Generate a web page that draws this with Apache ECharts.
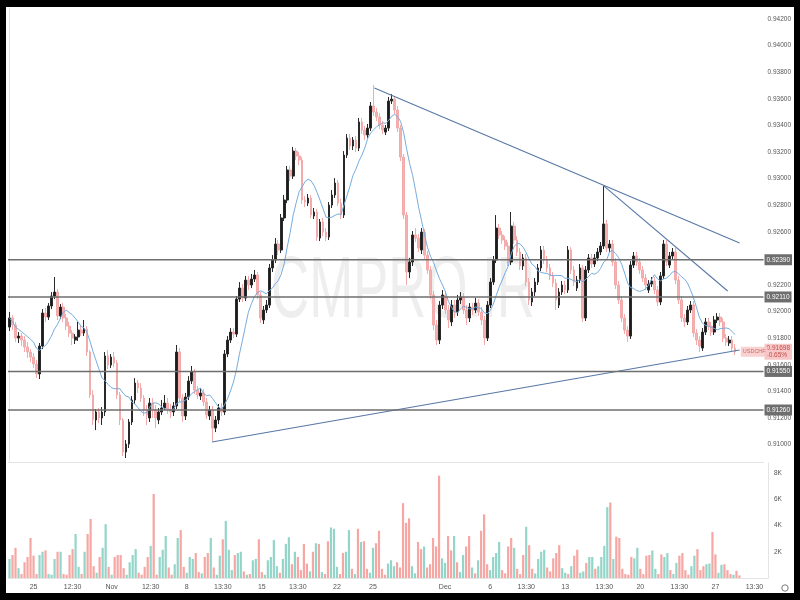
<!DOCTYPE html>
<html>
<head>
<meta charset="utf-8">
<script src="https://cdn.jsdelivr.net/npm/echarts@6/dist/echarts.min.js"></script>
<style>
html,body{margin:0;padding:0;background:#000;width:800px;height:600px;overflow:hidden;}
#c{position:absolute;left:6px;top:7px;width:788px;height:586px;background:#fff;}
</style>
</head>
<body>
<div id="c"></div>
<script>
// [open, close, low, high]
const candles = [
[0.91884,0.91952,0.91854,0.91997],[0.91952,0.91899,0.91861,0.91974],[0.91899,0.91801,0.91771,0.91922],[0.91801,0.91816,0.91764,0.91846],
[0.91816,0.91786,0.91741,0.91839],[0.91786,0.91734,0.91696,0.91816],[0.91734,0.91696,0.91651,0.91771],[0.91696,0.91658,0.91621,0.91718],
[0.91658,0.91606,0.91576,0.91688],[0.91606,0.91531,0.91500,0.91636],[0.91531,0.91741,0.91493,0.91764],[0.91741,0.91989,0.91718,0.92019],
[0.91989,0.91959,0.91922,0.92027],[0.91959,0.92042,0.91937,0.92064],[0.92042,0.92117,0.92019,0.92147],[0.92117,0.92147,0.92094,0.92260],
[0.92147,0.91967,0.91937,0.92170],[0.91967,0.92034,0.91944,0.92057],[0.92034,0.91952,0.91922,0.92064],[0.91952,0.91891,0.91861,0.91982],
[0.91891,0.91839,0.91809,0.91922],[0.91839,0.91801,0.91749,0.91861],[0.91786,0.91809,0.91756,0.91831],[0.91809,0.91861,0.91779,0.91922],
[0.91861,0.91839,0.91816,0.91899],[0.91839,0.91869,0.91816,0.91937],[0.91869,0.91696,0.91666,0.91891],[0.91696,0.91373,0.91350,0.91711],
[0.91373,0.91185,0.91147,0.91410],[0.91185,0.91245,0.91109,0.91267],[0.91245,0.91200,0.91162,0.91275],[0.91200,0.91245,0.91147,0.91282],
[0.91245,0.91666,0.91215,0.91696],[0.91666,0.91598,0.91568,0.91711],[0.91598,0.91658,0.91576,0.91681],[0.91658,0.91613,0.91583,0.91696],
[0.91613,0.91373,0.91343,0.91636],[0.91373,0.91185,0.91147,0.91395],[0.91185,0.90944,0.90914,0.91200],[0.90944,0.91004,0.90899,0.91034],
[0.91004,0.91170,0.90974,0.91192],[0.91170,0.91335,0.91147,0.91365],[0.91335,0.91463,0.91305,0.91500],[0.91463,0.91425,0.91388,0.91485],
[0.91425,0.91350,0.91320,0.91463],[0.91350,0.91260,0.91215,0.91373],[0.91260,0.91222,0.91147,0.91297],[0.91200,0.91312,0.91170,0.91350],
[0.91312,0.91260,0.91200,0.91350],[0.91260,0.91200,0.91124,0.91297],[0.91185,0.91245,0.91154,0.91275],[0.91245,0.91275,0.91222,0.91335],
[0.91275,0.91312,0.91260,0.91373],[0.91312,0.91267,0.91230,0.91350],[0.91267,0.91245,0.91200,0.91305],[0.91245,0.91290,0.91215,0.91320],
[0.91290,0.91696,0.91267,0.91749],[0.91696,0.91350,0.91320,0.91726],[0.91350,0.91215,0.91170,0.91380],[0.91215,0.91358,0.91185,0.91388],
[0.91358,0.91478,0.91335,0.91515],[0.91478,0.91546,0.91455,0.91591],[0.91546,0.91410,0.91380,0.91568],[0.91410,0.91373,0.91343,0.91440],
[0.91365,0.91388,0.91335,0.91425],[0.91388,0.91320,0.91290,0.91418],[0.91320,0.91222,0.91192,0.91350],[0.91215,0.91260,0.91185,0.91290],
[0.91260,0.91124,0.91027,0.91290],[0.91124,0.91185,0.91094,0.91215],[0.91185,0.91275,0.91154,0.91305],[0.91275,0.91245,0.91215,0.91312],
[0.91245,0.91681,0.91222,0.91711],[0.91681,0.91786,0.91658,0.91816],[0.91786,0.91846,0.91764,0.91876],[0.91846,0.91831,0.91801,0.91876],
[0.91831,0.92094,0.91809,0.92117],[0.92094,0.92177,0.92072,0.92222],[0.92177,0.92102,0.92072,0.92207],[0.92102,0.92237,0.92079,0.92268],
[0.92237,0.92200,0.92162,0.92268],[0.92200,0.92245,0.92177,0.92283],[0.92245,0.92275,0.92222,0.92313],[0.92275,0.92125,0.92094,0.92298],
[0.92125,0.91952,0.91914,0.92147],[0.91937,0.92012,0.91907,0.92042],[0.92012,0.92049,0.91989,0.92087],[0.92049,0.92328,0.92027,0.92358],
[0.92328,0.92388,0.92298,0.92425],[0.92388,0.92508,0.92365,0.92553],[0.92508,0.92463,0.92425,0.92538],[0.92463,0.92704,0.92440,0.92734],
[0.92704,0.92839,0.92681,0.92877],[0.92839,0.93065,0.92816,0.93095],[0.93065,0.93019,0.92982,0.93095],[0.93019,0.93207,0.92997,0.93238],
[0.93207,0.93170,0.93140,0.93230],[0.93170,0.93140,0.93102,0.93200],[0.93140,0.92839,0.92809,0.93162],[0.92839,0.92824,0.92786,0.92869],
[0.92816,0.92854,0.92794,0.92884],[0.92854,0.92726,0.92704,0.92877],[0.92719,0.92749,0.92696,0.92779],[0.92749,0.92561,0.92531,0.92771],
[0.92553,0.92674,0.92531,0.92696],[0.92674,0.92598,0.92568,0.92704],[0.92598,0.92561,0.92531,0.92628],[0.92561,0.92801,0.92538,0.92824],
[0.92801,0.92877,0.92779,0.92914],[0.92877,0.92967,0.92854,0.93004],[0.92967,0.92816,0.92794,0.92989],[0.92816,0.92726,0.92696,0.92847],
[0.92726,0.93177,0.92704,0.93207],[0.93177,0.93305,0.93155,0.93335],[0.93305,0.93245,0.93215,0.93335],[0.93245,0.93290,0.93215,0.93313],
[0.93290,0.93230,0.93200,0.93320],[0.93230,0.93426,0.93207,0.93456],[0.93426,0.93365,0.93335,0.93456],[0.93365,0.93328,0.93290,0.93396],
[0.93328,0.93380,0.93305,0.93411],[0.93380,0.93546,0.93358,0.93576],[0.93546,0.93501,0.93471,0.93704],[0.93501,0.93463,0.93433,0.93531],
[0.93463,0.93403,0.93373,0.93493],[0.93403,0.93365,0.93335,0.93433],[0.93350,0.93380,0.93328,0.93403],[0.93380,0.93583,0.93358,0.93614],
[0.93583,0.93598,0.93561,0.93636],[0.93598,0.93516,0.93486,0.93621],[0.93516,0.93380,0.93350,0.93546],[0.93380,0.93162,0.93132,0.93403],
[0.93162,0.92726,0.92696,0.93185],[0.92726,0.92298,0.92200,0.92749],[0.92298,0.92373,0.92252,0.92403],[0.92373,0.92576,0.92343,0.92606],
[0.92576,0.92553,0.92523,0.92628],[0.92553,0.92478,0.92448,0.92583],[0.92463,0.92598,0.92433,0.92628],[0.92598,0.92425,0.92395,0.92621],
[0.92425,0.92313,0.92283,0.92455],[0.92313,0.92125,0.92094,0.92343],[0.92125,0.91899,0.91861,0.92155],[0.91899,0.91786,0.91749,0.91937],
[0.91786,0.92049,0.91756,0.92079],[0.92049,0.92125,0.92019,0.92162],[0.92125,0.92012,0.91982,0.92155],[0.92012,0.91937,0.91876,0.92049],
[0.91922,0.92049,0.91891,0.92087],[0.92049,0.91997,0.91952,0.92087],[0.91997,0.92087,0.91967,0.92125],[0.92087,0.92110,0.92057,0.92147],
[0.92110,0.92012,0.91982,0.92140],[0.92012,0.91952,0.91899,0.92049],[0.91952,0.92034,0.91922,0.92064],[0.92034,0.92012,0.91974,0.92064],
[0.92012,0.92064,0.91989,0.92102],[0.92064,0.91997,0.91967,0.92094],[0.91997,0.91937,0.91899,0.92034],[0.91937,0.91801,0.91749,0.91967],
[0.91801,0.92049,0.91779,0.92079],[0.92049,0.92222,0.92027,0.92252],[0.92222,0.92388,0.92200,0.92418],[0.92388,0.92628,0.92365,0.92726],
[0.92628,0.92576,0.92546,0.92659],[0.92576,0.92538,0.92508,0.92606],[0.92538,0.92493,0.92463,0.92568],[0.92493,0.92373,0.92343,0.92523],
[0.92373,0.92643,0.92350,0.92749],[0.92643,0.92538,0.92508,0.92674],[0.92538,0.92448,0.92418,0.92568],[0.92448,0.92343,0.92313,0.92478],
[0.92343,0.92403,0.92313,0.92433],[0.92403,0.92222,0.92192,0.92433],[0.92222,0.92087,0.92049,0.92252],[0.92072,0.92147,0.92042,0.92177],
[0.92147,0.92222,0.92117,0.92252],[0.92222,0.92328,0.92200,0.92358],[0.92328,0.92463,0.92305,0.92493],[0.92463,0.92388,0.92358,0.92493],
[0.92388,0.92328,0.92298,0.92418],[0.92328,0.92268,0.92237,0.92358],[0.92268,0.92215,0.92185,0.92298],[0.92215,0.92087,0.92012,0.92245],
[0.92049,0.92147,0.92027,0.92177],[0.92147,0.92200,0.92125,0.92230],[0.92200,0.92162,0.92132,0.92230],[0.92162,0.92463,0.92140,0.92493],
[0.92463,0.92313,0.92283,0.92485],[0.92313,0.92222,0.92192,0.92343],[0.92177,0.92237,0.92155,0.92268],[0.92237,0.92328,0.92215,0.92358],
[0.92328,0.91952,0.91922,0.92350],[0.91952,0.92313,0.91929,0.92343],[0.92313,0.92403,0.92290,0.92433],[0.92403,0.92358,0.92328,0.92433],
[0.92358,0.92403,0.92335,0.92433],[0.92403,0.92448,0.92380,0.92478],[0.92448,0.92493,0.92425,0.92523],[0.92493,0.92659,0.92471,0.92944],
[0.92659,0.92478,0.92448,0.92689],[0.92478,0.92508,0.92448,0.92538],[0.92508,0.92373,0.92343,0.92538],[0.92373,0.92200,0.92170,0.92403],
[0.92200,0.92087,0.92057,0.92230],[0.92087,0.91952,0.91922,0.92117],[0.91952,0.91861,0.91831,0.91982],[0.91861,0.91816,0.91771,0.91891],
[0.91816,0.92350,0.91794,0.92380],[0.92350,0.92418,0.92328,0.92448],[0.92418,0.92373,0.92343,0.92448],[0.92373,0.92313,0.92283,0.92403],
[0.92313,0.92252,0.92222,0.92343],[0.92252,0.92200,0.92162,0.92283],[0.92162,0.92207,0.92140,0.92237],[0.92207,0.92230,0.92185,0.92260],
[0.92230,0.92162,0.92132,0.92260],[0.92162,0.92072,0.92042,0.92192],[0.92072,0.92268,0.92049,0.92298],[0.92268,0.92508,0.92245,0.92538],
[0.92508,0.92373,0.92343,0.92538],[0.92350,0.92418,0.92328,0.92448],[0.92418,0.92448,0.92388,0.92478],[0.92448,0.92237,0.92207,0.92478],
[0.92237,0.92087,0.92057,0.92268],[0.92087,0.91952,0.91922,0.92117],[0.91952,0.91922,0.91884,0.91982],[0.91922,0.92012,0.91899,0.92042],
[0.92012,0.92049,0.91989,0.92079],[0.92049,0.91839,0.91809,0.92079],[0.91839,0.91786,0.91749,0.91869],[0.91786,0.91741,0.91696,0.91816],
[0.91726,0.91846,0.91704,0.91876],[0.91846,0.91922,0.91824,0.91952],[0.91922,0.91891,0.91861,0.91952],[0.91891,0.91846,0.91816,0.91922],
[0.91846,0.91937,0.91824,0.91967],[0.91937,0.91959,0.91914,0.91989],[0.91959,0.91922,0.91891,0.91989],[0.91922,0.91801,0.91771,0.91952],
[0.91801,0.91771,0.91741,0.91831],[0.91764,0.91786,0.91741,0.91816],[0.91786,0.91726,0.91704,0.91816],[0.91726,0.91698,0.91673,0.91756]
];

const volumes = [
1450,1750,2300,750,300,1200,1600,3050,1700,300,1750,2000,2100,300,250,1450,2000,2000,300,250,
1750,2200,3350,850,300,2000,3350,4500,900,400,1600,2300,4100,850,250,1600,1750,1750,750,250,
1200,1750,2200,400,250,850,1600,2450,6400,250,1600,2150,3200,800,250,1050,3050,3650,850,400,
1600,1450,1900,450,350,1600,1900,3050,800,250,1700,2950,4350,2150,600,1750,1900,2000,500,250,
300,1350,1450,2950,450,250,1350,1600,2900,900,400,1450,2600,3100,1050,2000,1600,600,2600,1100,
500,2000,2650,2600,450,300,2800,3850,3750,850,300,1900,2000,3650,700,300,3750,2750,2800,700,
400,2300,2650,3600,700,250,1100,1350,900,1200,800,5700,4200,4550,900,350,2750,2200,2400,800,
1050,3050,2400,7800,1500,1150,3200,2100,3200,1200,450,1750,2400,3200,800,350,1350,3600,4850,1050,
600,1600,1900,2750,600,350,2400,3050,2300,700,300,1750,3900,2500,700,350,1450,2000,2150,800,
500,1500,1900,2500,750,400,300,900,1700,2150,400,500,1150,1600,1600,700,900,1600,2450,5400,
5750,1450,3150,3050,700,300,250,1600,1500,2300,700,300,1700,1750,2100,700,300,1800,1600,1900,
600,300,1150,1700,1900,600,250,900,1700,2200,600,900,1050,1100,3500,1800,400,1000,1050,600,
300,250,550,200
];

const slotCount = 253;               // data slots incl. empty space on the right
const tickIdx  = [8,21,34,47,59,71,84,96,109,121,145,160,172,185,198,210,223,235,248];
const tickText = ['25','12:30','Nov','12:30','8','13:30','15','13:30','22','25','Dec','6','13:30','13','13:30','20','13:30','27','13:30'];
const priceTicks = [0.910,0.912,0.914,0.916,0.918,0.920,0.922,0.924,0.926,0.928,0.930,0.932,0.934,0.936,0.938,0.940,0.942];
const volumeTicks = [2000,4000,6000,8000];
const levels = [0.92390, 0.92110, 0.91550, 0.91260];
const trendLines = [
  [[122.2, 0.93681], [244.5, 0.92516]],
  [[199.0, 0.92945], [240.5, 0.92155]],
  [[67.8, 0.91019], [244.5, 0.91711]]
];
const symbolName = 'USDCHF';
const changeText = '-0.65%';
const symbolSlot = 249.4;
const maPeriod = 9;

const cats = Array.from({length: slotCount}, (_, i) => String(i));
const closes = candles.map(c => c[1]);
const ma = closes.map((_, i) => {
  const s = Math.max(0, i - maPeriod + 1);
  const w = closes.slice(s, i + 1);
  return +(w.reduce((a, b) => a + b, 0) / w.length).toFixed(5);
});
const volData = volumes.map((v, i) => ({
  value: v,
  itemStyle: {color: candles[i][1] >= candles[i][0] ? '#93d5c9' : '#f6a7a3'}
}));
const lastClose = closes[closes.length - 1];
const FONT = 'Liberation Sans';

const levelSeries = levels.map(v => ({
  type: 'line', xAxisIndex: 2, yAxisIndex: 0, silent: true, symbol: 'none', z: 5,
  data: [[-0.5, v], [slotCount - 0.5, v]],
  lineStyle: {color: '#6e6e6e', width: 1.5},
  endLabel: {show: true, distance: 1, formatter: v.toFixed(5), backgroundColor: '#6e6e6e',
             color: '#fff', fontSize: 6.5, padding: [2, 2], fontFamily: FONT}
}));

const chart = echarts.init(document.getElementById('c'));
chart.setOption({
  animation: false,
  backgroundColor: '#fff',
  textStyle: {fontFamily: FONT},
  graphic: [
    {type: 'text', x: 397, y: 286, scaleX: 0.6, z: -10, silent: true,
     style: {text: 'CMPRO.IR', fontSize: 88, fontFamily: FONT, fill: '#eeeeee',
             textAlign: 'center', textVerticalAlign: 'middle'}},
    {type: 'circle', shape: {cx: 779, cy: 581, r: 3.2}, style: {fill: 'none', stroke: '#777', lineWidth: 1}}
  ],
  grid: [
    {left: 2, right: 26, top: 1, height: 454},
    {left: 2, right: 26, top: 456, height: 115}
  ],
  xAxis: [
    {type: 'category', gridIndex: 0, data: cats, boundaryGap: true,
     axisLine: {show: true, lineStyle: {color: '#e4e4e4'}}, axisTick: {show: false}, axisLabel: {show: false}},
    {type: 'category', gridIndex: 1, data: cats, boundaryGap: true,
     axisLine: {show: true, lineStyle: {color: '#e4e4e4'}}, axisTick: {show: false},
     axisLabel: {
       interval: (idx) => tickIdx.indexOf(idx) >= 0,
       formatter: (v, idx) => { const k = tickIdx.indexOf(idx); return k >= 0 ? tickText[k] : ''; },
       fontSize: 7, color: '#555', margin: 6, fontFamily: FONT
     }},
    {type: 'value', gridIndex: 0, min: -0.5, max: slotCount - 0.5, show: false}
  ],
  yAxis: [
    {type: 'value', gridIndex: 0, position: 'right', min: 0.90869, max: 0.94283,
     axisLine: {show: true, lineStyle: {color: '#e4e4e4'}}, axisTick: {show: false}, splitLine: {show: false},
     axisLabel: {customValues: priceTicks, formatter: v => v.toFixed(5), fontSize: 6.5, color: '#555', margin: 4, fontFamily: FONT}},
    {type: 'value', gridIndex: 1, position: 'right', min: 0, max: 8760,
     axisLine: {show: true, lineStyle: {color: '#e4e4e4'}}, axisTick: {show: false}, splitLine: {show: false},
     axisLabel: {customValues: volumeTicks, formatter: v => (v / 1000) + 'K', fontSize: 6.5, color: '#555', margin: 6, fontFamily: FONT}}
  ],
  series: [
    {type: 'candlestick', xAxisIndex: 0, yAxisIndex: 0, data: candles, barWidth: 2.2,
     itemStyle: {color: '#1c1c1c', color0: '#f5b0b0', borderColor: '#2a2a2a', borderColor0: '#f3aaaa', borderWidth: 1}},
    {type: 'line', xAxisIndex: 0, yAxisIndex: 0, data: ma, symbol: 'none', silent: true,
     lineStyle: {color: '#76acde', width: 1}, z: 3},
    ...trendLines.map(t => ({
      type: 'line', xAxisIndex: 2, yAxisIndex: 0, data: t, symbol: 'none', silent: true,
      lineStyle: {color: '#5878a6', width: 1.1}, z: 4
    })),
    ...levelSeries,
    {type: 'line', xAxisIndex: 2, yAxisIndex: 0, silent: true, symbol: 'none', z: 6,
     data: [[symbolSlot, lastClose], [slotCount - 0.5, lastClose]],
     lineStyle: {opacity: 0},
     endLabel: {show: true, distance: 1, formatter: lastClose.toFixed(5) + '\n' + changeText,
                backgroundColor: '#f7c6c6', color: '#c0504d', fontSize: 6.5, lineHeight: 7, padding: [1, 2], fontFamily: FONT}},
    {type: 'scatter', xAxisIndex: 2, yAxisIndex: 0, silent: true, symbol: 'rect', symbolSize: [1, 1], z: 6,
     itemStyle: {color: 'rgba(0,0,0,0)'},
     data: [[symbolSlot, lastClose]],
     label: {show: true, position: 'inside', formatter: symbolName, backgroundColor: '#f7c6c6',
             color: '#c0504d', fontSize: 5.5, padding: [2, 2], fontFamily: FONT}},
    {type: 'bar', xAxisIndex: 1, yAxisIndex: 1, data: volData, barWidth: 2.2}
  ]
});
</script>
</body>
</html>
